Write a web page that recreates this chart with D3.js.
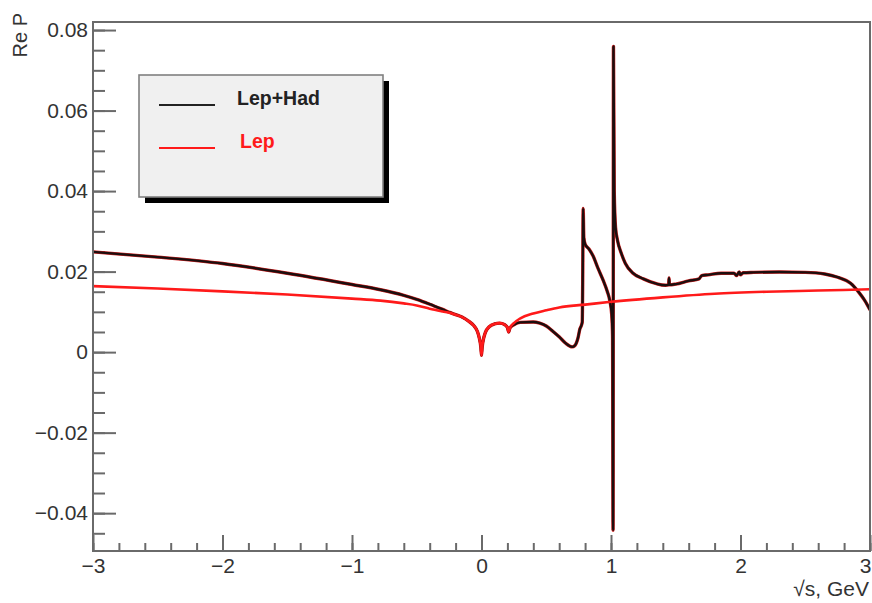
<!DOCTYPE html>
<html>
<head>
<meta charset="utf-8">
<script src="https://cdn.jsdelivr.net/npm/d3@7"></script>
<style>
  html, body { margin: 0; padding: 0; background: #fff; }
  svg { display: block; }
  text { font-family: "Liberation Sans", Arial, Helvetica, sans-serif; }
</style>
</head>
<body>
<svg id="chart" width="872" height="603"></svg>
<script>
// ---------- data ----------
const xMajorTicks = [-3, -2, -1, 0, 1, 2, 3];
const yMajorTicks = [-0.04, -0.02, 0, 0.02, 0.04, 0.06, 0.08];
const seriesNames = ["Lep+Had", "Lep"];

// Lep (leptonic only)
const lepX = [-3.0, -2.5, -2.0, -1.5, -1.0, -0.78, -0.6, -0.5, -0.4, -0.3, -0.24, -0.2, -0.15, -0.1, -0.06, -0.03, -0.015, -0.005, 0.0,
  0.005, 0.015, 0.03, 0.06, 0.1, 0.14, 0.18, 0.2, 0.21, 0.22, 0.25, 0.3, 0.4, 0.5, 0.6, 0.8, 1.0, 1.4, 1.8, 2.2, 2.6, 3.0];
const lepY = [0.0164, 0.0158, 0.0151, 0.0143, 0.0133, 0.0128, 0.0121, 0.0116, 0.0108, 0.0101, 0.0097, 0.0093, 0.0087, 0.0077, 0.0066, 0.0050, 0.0032, 0.0012, -0.0008,
  0.0012, 0.0032, 0.0049, 0.0063, 0.0070, 0.0072, 0.0068, 0.0061, 0.0050, 0.0060, 0.0072, 0.0084, 0.0096, 0.0104, 0.0111, 0.0118, 0.0125, 0.0136, 0.0145, 0.0150, 0.0153, 0.0156];

// Lep+Had (leptonic + hadronic)
const hadX = [-3.0, -2.5, -2.0, -1.5, -1.0, -0.78, -0.6, -0.5, -0.4, -0.3, -0.24, -0.2, -0.15, -0.1, -0.06, -0.03, -0.015, -0.005, 0.0,
  0.005, 0.015, 0.03, 0.06, 0.1, 0.14, 0.18, 0.2, 0.21, 0.22, 0.25, 0.3, 0.4, 0.45, 0.5, 0.55, 0.6, 0.65, 0.7, 0.72, 0.745, 0.76, 0.77, 0.778,
  0.782, 0.785, 0.79, 0.8, 0.83, 0.86, 0.9, 0.94, 0.97, 0.99, 1.005, 1.012, 1.016, 1.019, 1.025, 1.035, 1.05, 1.08, 1.11, 1.17, 1.25, 1.35,
  1.42, 1.445, 1.448, 1.452, 1.5, 1.6, 1.68, 1.7, 1.75, 1.85, 1.95, 1.97, 1.99, 2.0, 2.02, 2.1, 2.3, 2.5, 2.65, 2.75, 2.85, 2.92, 2.96, 3.0];
const hadY = [0.0249, 0.0236, 0.0220, 0.0196, 0.0168, 0.0155, 0.0141, 0.0131, 0.0119, 0.0106, 0.0098, 0.0093, 0.0087, 0.0077, 0.0066, 0.0050, 0.0032, 0.0012, -0.0008,
  0.0012, 0.0032, 0.0049, 0.0063, 0.0070, 0.0072, 0.0068, 0.0061, 0.0050, 0.0060, 0.0068, 0.0074, 0.0075, 0.0072, 0.0065, 0.0052, 0.0038, 0.0022, 0.0013, 0.0016, 0.0035, 0.0058, 0.0065, 0.0075,
  0.0200, 0.0357, 0.0285, 0.0268, 0.0256, 0.0240, 0.0208, 0.0178, 0.0152, 0.0129, 0.0095, 0.0040, -0.0442, 0.0759, 0.0400, 0.0310, 0.0278, 0.0245, 0.0221, 0.0196, 0.0182, 0.0170,
  0.0166, 0.0167, 0.0184, 0.0167, 0.0169, 0.0177, 0.0182, 0.0190, 0.0192, 0.0196, 0.0196, 0.0190, 0.0199, 0.0192, 0.0197, 0.0198, 0.0199, 0.0198, 0.0194, 0.0186, 0.0171, 0.0146, 0.0128, 0.0105];

// ---------- layout ----------
const svg = d3.select("#chart");
const L = 93, T = 22, R = 870, B = 551;
const x = d3.scaleLinear().domain([-3, 3]).range([L, R]);
const y = d3.scaleLinear().domain([-0.0494, 0.0820]).range([B, T]);
const frameColor = "#6a6a6a";
const textColor = "#333";

svg.append("rect").attr("width", 872).attr("height", 603).attr("fill", "#fff");

svg.append("clipPath").attr("id", "clip")
  .append("rect").attr("x", L).attr("y", T).attr("width", R - L).attr("height", B - T);

// Y axis minor ticks
const yMinor = d3.range(-0.045, 0.0801, 0.005).map(v => +v.toFixed(3));
svg.append("g").attr("transform", `translate(${L},0)`)
  .call(d3.axisLeft(y).tickValues(yMinor).tickSizeInner(-12).tickSizeOuter(0).tickFormat(""))
  .call(g => g.select(".domain").remove())
  .call(g => g.selectAll("line").attr("stroke", frameColor).attr("stroke-width", 2));

// Y axis major
svg.append("g").attr("transform", `translate(${L},0)`)
  .call(d3.axisLeft(y).tickValues(yMajorTicks).tickSizeInner(-23).tickSizeOuter(0).tickPadding(5)
    .tickFormat(d => d === 0 ? "0" : d3.format(".2f")(d)))
  .call(g => g.select(".domain").remove())
  .call(g => g.selectAll("line").attr("stroke", frameColor).attr("stroke-width", 2))
  .call(g => g.selectAll("text").attr("font-size", 21).attr("fill", textColor)
    .attr("font-family", "'Liberation Sans', Arial, sans-serif"));

// X axis minor ticks
const xMinor = d3.range(-3, 3.001, 0.2).map(v => +v.toFixed(2));
svg.append("g").attr("transform", `translate(0,${B})`)
  .call(d3.axisBottom(x).tickValues(xMinor).tickSizeInner(-8).tickSizeOuter(0).tickFormat(""))
  .call(g => g.select(".domain").remove())
  .call(g => g.selectAll("line").attr("stroke", frameColor).attr("stroke-width", 2));

// X axis major
svg.append("g").attr("transform", `translate(0,${B})`)
  .call(d3.axisBottom(x).tickValues(xMajorTicks).tickSizeInner(-16).tickSizeOuter(0).tickPadding(7)
    .tickFormat(d => d3.format("d")(d)))
  .call(g => g.select(".domain").remove())
  .call(g => g.selectAll("line").attr("stroke", frameColor).attr("stroke-width", 2))
  .call(g => g.selectAll("text").attr("font-size", 21).attr("fill", textColor)
    .attr("font-family", "'Liberation Sans', Arial, sans-serif")
    .attr("dx", d => d === 3 ? -5 : 0));

// curves
const line = d3.line().x(d => x(d[0])).y(d => y(d[1])).curve(d3.curveMonotoneX);
const plot = svg.append("g").attr("clip-path", "url(#clip)");
plot.append("path")
  .datum(hadX.map((v, i) => [v, hadY[i]]))
  .attr("d", line).attr("fill", "none")
  .attr("stroke", "#d02020").attr("stroke-width", 3.4).attr("stroke-linejoin", "round");
plot.append("path")
  .datum(hadX.map((v, i) => [v, hadY[i]]))
  .attr("d", line).attr("fill", "none")
  .attr("stroke", "#1c0e0e").attr("stroke-width", 2.4).attr("stroke-linejoin", "round");
plot.append("path")
  .datum(lepX.map((v, i) => [v, lepY[i]]))
  .attr("d", line).attr("fill", "none")
  .attr("stroke", "#ff1a1a").attr("stroke-width", 2.6).attr("stroke-linejoin", "round");

// frame
svg.append("rect").attr("x", L).attr("y", T).attr("width", R - L).attr("height", B - T)
  .attr("fill", "none").attr("stroke", frameColor).attr("stroke-width", 2);

// axis titles
svg.append("text").attr("transform", "translate(27,13) rotate(-90)")
  .attr("text-anchor", "end").attr("font-size", 20).attr("fill", textColor).text("Re P");
svg.append("text").attr("x", 869).attr("y", 596)
  .attr("text-anchor", "end").attr("font-size", 21).attr("fill", textColor).text("√s, GeV");

// legend
const lg = svg.append("g");
lg.append("rect").attr("x", 145).attr("y", 81).attr("width", 244).attr("height", 122).attr("fill", "#000");
lg.append("rect").attr("x", 139).attr("y", 75).attr("width", 244).attr("height", 122)
  .attr("fill", "#f0f0f0").attr("stroke", "#808080").attr("stroke-width", 1.6);
const legColors = ["#222", "#ff1a1a"];
const legLineY = [105, 148];
const legTextX = [237, 240];
const legTextY = [105, 148];
seriesNames.forEach((name, i) => {
  lg.append("line").attr("x1", 159).attr("x2", 215).attr("y1", legLineY[i]).attr("y2", legLineY[i])
    .attr("stroke", legColors[i]).attr("stroke-width", 2);
  lg.append("text").attr("x", legTextX[i]).attr("y", legTextY[i])
    .attr("font-size", 19.5).attr("font-weight", "bold").attr("fill", legColors[i]).text(name);
});
</script>
</body>
</html>
